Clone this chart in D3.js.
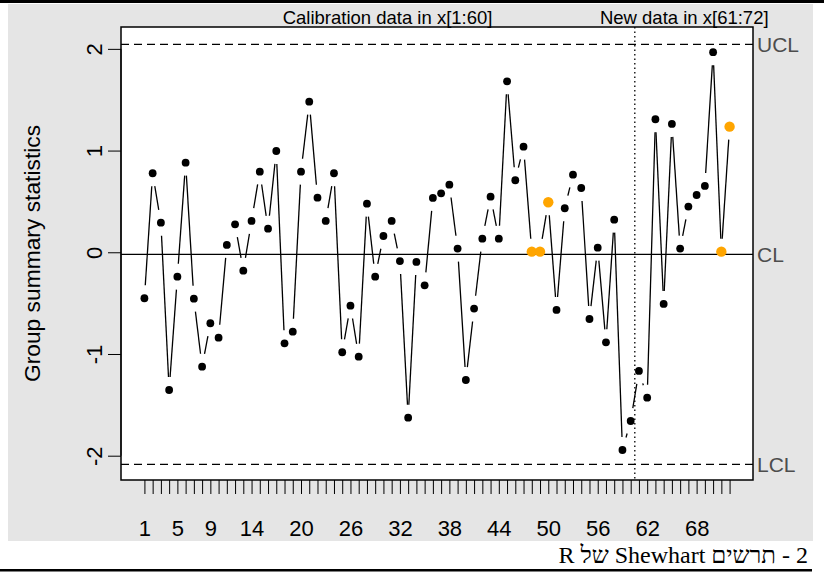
<!DOCTYPE html>
<html>
<head>
<meta charset="utf-8">
<script src="https://cdn.jsdelivr.net/npm/d3@7"></script>
<style>
  html, body { margin: 0; padding: 0; background: #ffffff; }
  svg { display: block; }
</style>
</head>
<body>
<svg id="chart" width="824" height="573"></svg>
<script>
// Group summary statistics, samples 1..72
const samples = d3.range(1, 73);
const values = [
  -0.452, 0.777, 0.291, -1.354, -0.240, 0.881, -0.456, -1.125, -0.698, -0.840,
   0.072, 0.275, -0.181, 0.308, 0.793, 0.232, 0.996, -0.895, -0.781, 0.793,
   1.481, 0.537, 0.308, 0.777, -0.983, -0.525, -1.026, 0.478, -0.240, 0.160,
   0.308, -0.086, -1.626, -0.095, -0.325, 0.534, 0.580, 0.665, 0.036, -1.256,
  -0.554, 0.134, 0.547, 0.134, 1.681, 0.708, 1.038, 0.006, 0.006, 0.492,
  -0.567, 0.433, 0.763, 0.632, -0.656, 0.045, -0.885, 0.321, -1.944, -1.659,
  -1.167, -1.430, 1.308, -0.508, 1.262, 0.036, 0.449, 0.563, 0.652, 1.967,
   0.006, 1.235
];
// samples flagged as part of a violating run
const flagged = [48, 49, 50, 71, 72];

// control limits
const limitNames = ["UCL", "CL", "LCL"];
const limitValues = [2.045, -0.02, -2.085];

// calibration / new data split
const calibrationEnd = 60;
const sectionTitles = ["Calibration data in x[1:60]", "New data in x[61:72]"];

// axis ticks
const yTicks = [-2, -1, 0, 1, 2];
const xTickLabels = [1, 5, 9, 14, 20, 26, 32, 38, 44, 50, 56, 62, 68];

const caption = "2 - תרשים Shewhart של R";

const svg = d3.select("#chart");
const W = 824, H = 573;
const plot = { left: 121, top: 27, right: 753, bottom: 480 };

// page frame
svg.append("rect").attr("x", 8).attr("y", 4).attr("width", 805).attr("height", 537).attr("fill", "#e5e5e5");
svg.append("rect").attr("x", 0).attr("y", 0).attr("width", W).attr("height", 3).attr("fill", "#000");
svg.append("rect").attr("x", 0).attr("y", 569).attr("width", 812).attr("height", 2.5).attr("fill", "#000");

// scales
const pad = 0.04 * (72 - 1);
const x = d3.scaleLinear().domain([1 - pad, 72 + pad]).range([plot.left, plot.right]);
const y = d3.scaleLinear().domain([-2.239, 2.215]).range([plot.bottom, plot.top]);

// plotting region
svg.append("rect")
  .attr("x", plot.left).attr("y", plot.top)
  .attr("width", plot.right - plot.left).attr("height", plot.bottom - plot.top)
  .attr("fill", "#ffffff");

const font = "'Liberation Sans', Arial, sans-serif";

// x axis: a tick for every sample, labels where they fit
const xAxis = d3.axisBottom(x)
  .tickValues(samples)
  .tickSize(14)
  .tickFormat(d => xTickLabels.includes(d) ? String(d) : "");
const gx = svg.append("g").attr("transform", `translate(0,${plot.bottom})`).call(xAxis);
gx.select(".domain").remove();
gx.selectAll(".tick line").attr("stroke", "#000").attr("stroke-width", 1);
gx.selectAll(".tick text")
  .attr("font-family", font).attr("font-size", 22).attr("fill", "#000")
  .attr("y", 0).attr("dy", null)
  .attr("transform", "translate(0,56)");

// y axis with rotated labels (plain hyphen for negatives)
const yAxis = d3.axisLeft(y).tickValues(yTicks).tickSize(13).tickFormat(d => String(d));
const gy = svg.append("g").attr("transform", `translate(${plot.left},0)`).call(yAxis);
gy.select(".domain").attr("d", `M0,${y(2)}V${y(-2)}`).attr("stroke", "#000");
gy.selectAll(".tick line").attr("stroke", "#000").attr("stroke-width", 1);
gy.selectAll(".tick text")
  .attr("font-family", font).attr("font-size", 22).attr("fill", "#000")
  .attr("x", 0).attr("dy", null).attr("text-anchor", "middle")
  .attr("transform", "translate(-19,0) rotate(-90)");

svg.append("text")
  .attr("transform", `translate(40,${(plot.top + plot.bottom) / 2}) rotate(-90)`)
  .attr("text-anchor", "middle")
  .attr("font-family", font).attr("font-size", 22.8).attr("fill", "#000")
  .text("Group summary statistics");

// control limit lines
limitNames.forEach((name, i) => {
  const yy = y(limitValues[i]);
  svg.append("line")
    .attr("x1", plot.left).attr("x2", plot.right)
    .attr("y1", yy).attr("y2", yy)
    .attr("stroke", "#000").attr("stroke-width", 1.3)
    .attr("stroke-dasharray", name === "CL" ? null : "8,5");
  svg.append("text")
    .attr("x", plot.right + 4).attr("y", yy)
    .attr("dy", "0.35em")
    .attr("font-family", font).attr("font-size", 21).attr("fill", "#4d4d4d")
    .text(name);
});

// separator between calibration and new data
const xSplit = x(calibrationEnd + 0.5);
svg.append("line")
  .attr("x1", xSplit).attr("x2", xSplit)
  .attr("y1", plot.top).attr("y2", plot.bottom)
  .attr("stroke", "#000").attr("stroke-width", 1.3)
  .attr("stroke-dasharray", "1.5,3");

// section titles
[[1, calibrationEnd], [calibrationEnd + 1, 72]].forEach((r, i) => {
  svg.append("text")
    .attr("x", x((r[0] + r[1]) / 2)).attr("y", plot.top - 3)
    .attr("text-anchor", "middle")
    .attr("font-family", font).attr("font-size", 18.5).attr("fill", "#000")
    .text(sectionTitles[i]);
});

// connecting segments, broken near each point
const gap = 13;
const pts = samples.map((s, i) => [x(s), y(values[i])]);
const segs = [];
for (let i = 0; i < pts.length - 1; i++) {
  const [x0, y0] = pts[i], [x1, y1] = pts[i + 1];
  const L = Math.hypot(x1 - x0, y1 - y0);
  if (L > 2 * gap) {
    const ux = (x1 - x0) / L, uy = (y1 - y0) / L;
    segs.push([x0 + ux * gap, y0 + uy * gap, x1 - ux * gap, y1 - uy * gap]);
  }
}
svg.append("g").selectAll("line").data(segs).join("line")
  .attr("x1", d => d[0]).attr("y1", d => d[1])
  .attr("x2", d => d[2]).attr("y2", d => d[3])
  .attr("stroke", "#000").attr("stroke-width", 1.3);

// points
svg.append("g").selectAll("circle").data(samples).join("circle")
  .attr("cx", d => x(d)).attr("cy", (d, i) => y(values[i]))
  .attr("r", d => flagged.includes(d) ? 5.2 : 3.9)
  .attr("fill", d => flagged.includes(d) ? "#ffa500" : "#000");

// plot frame
svg.append("rect")
  .attr("x", plot.left).attr("y", plot.top)
  .attr("width", plot.right - plot.left).attr("height", plot.bottom - plot.top)
  .attr("fill", "none").attr("stroke", "#000").attr("stroke-width", 1.5);

// caption
svg.append("text")
  .attr("x", 808).attr("y", 563)
  .attr("direction", "rtl")
  .attr("text-anchor", "start")
  .attr("font-family", "'Liberation Serif', 'Times New Roman', serif")
  .attr("font-size", 24).attr("fill", "#000")
  .text(caption);
</script>
</body>
</html>
